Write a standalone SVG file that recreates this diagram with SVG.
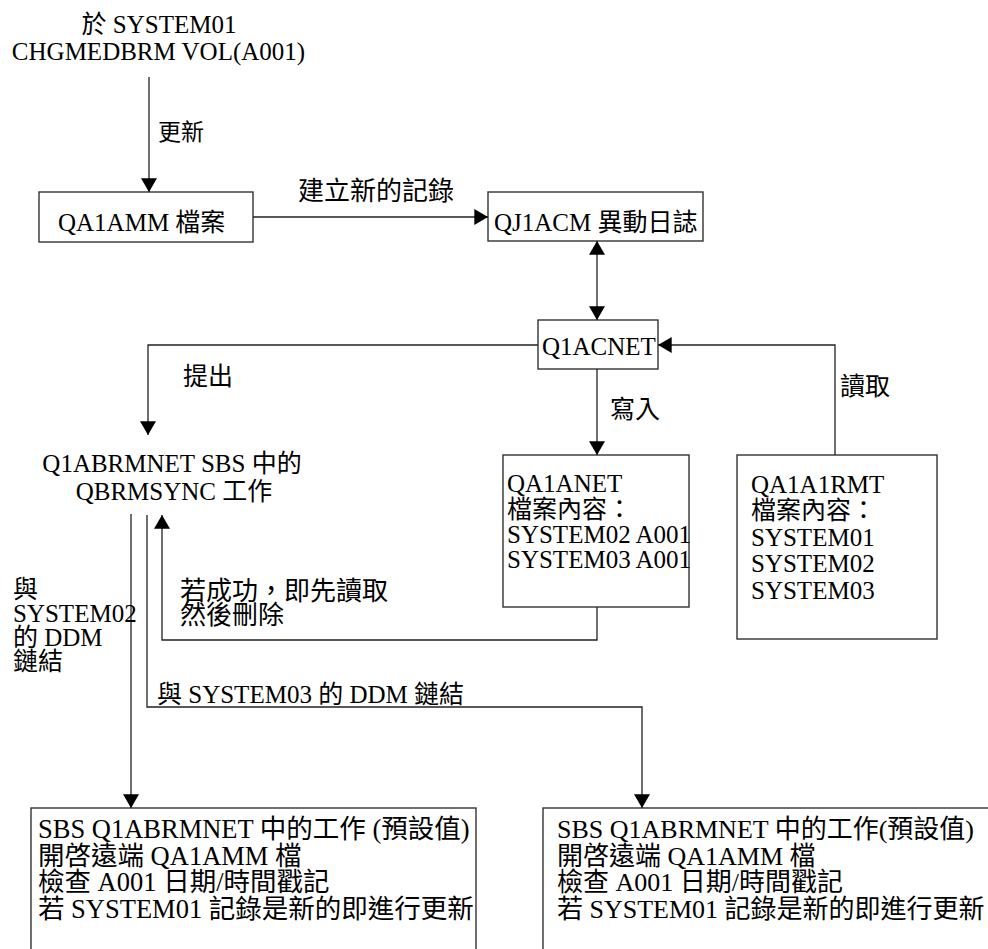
<svg xmlns="http://www.w3.org/2000/svg" width="988" height="949" viewBox="0 0 988 949">
<style>
  .bg{fill:#fff}
  .box{fill:#fff;stroke:#333;stroke-width:1.4}
  .ln{fill:none;stroke:#222;stroke-width:1.3}
  .t{font-family:'Liberation Serif','Times New Roman','Noto Sans CJK TC','Noto Sans CJK SC',serif;font-size:25px;fill:#000}
  .b{font-family:'Liberation Serif','Times New Roman','Noto Sans CJK TC','Noto Sans CJK SC',serif;font-size:26.5px;fill:#000}
  .b2{font-family:'Liberation Serif','Times New Roman','Noto Sans CJK TC','Noto Sans CJK SC',serif;font-size:26px;fill:#000}
</style>
<defs>
  <marker id="ah" markerUnits="userSpaceOnUse" markerWidth="16" markerHeight="16" viewBox="0 0 12 14" refX="12" refY="7" orient="auto-start-reverse">
    <path d="M0,0 L12,7 L0,14 Z" fill="#000"/>
  </marker>
</defs>
<rect class="bg" x="0" y="0" width="988" height="949"/>

<g id="start">
  <text class="t" x="159" y="33" text-anchor="middle">於 SYSTEM01</text>
  <text class="t" x="158.5" y="60" text-anchor="middle">CHGMEDBRM VOL(A001)</text>
</g>

<g id="qa1amm">
  <rect class="box" x="39" y="192" width="214" height="50"/>
  <text class="t" x="58" y="231">QA1AMM 檔案</text>
</g>

<g id="qj1acm">
  <rect class="box" x="488" y="192" width="215" height="49"/>
  <text class="t" x="494" y="231">QJ1ACM 異動日誌</text>
</g>

<g id="q1acnet">
  <rect class="box" x="538" y="320" width="120" height="49"/>
  <text class="t" x="542" y="355">Q1ACNET</text>
</g>

<g id="qbrmsync">
  <text class="t" x="172" y="472" text-anchor="middle">Q1ABRMNET SBS 中的</text>
  <text class="t" x="174" y="500" text-anchor="middle">QBRMSYNC 工作</text>
</g>

<g id="qa1anet">
  <rect class="box" x="503" y="455" width="186" height="152"/>
  <text class="t" x="507" y="492">QA1ANET</text>
  <text class="t" x="507" y="518">檔案內容：</text>
  <text class="t" x="507" y="543">SYSTEM02 A001</text>
  <text class="t" x="507" y="568">SYSTEM03 A001</text>
</g>

<g id="qa1a1rmt">
  <rect class="box" x="737" y="455" width="200" height="184"/>
  <text class="t" x="751" y="493">QA1A1RMT</text>
  <text class="t" x="751" y="519">檔案內容：</text>
  <text class="t" x="751" y="546">SYSTEM01</text>
  <text class="t" x="751" y="572">SYSTEM02</text>
  <text class="t" x="751" y="599">SYSTEM03</text>
</g>

<g id="job-system02">
  <rect class="box" x="31" y="808" width="445" height="170"/>
  <text class="b" x="38" y="838">SBS Q1ABRMNET 中的工作 (預設值)</text>
  <text class="b" x="38" y="865">開啓遠端 QA1AMM 檔</text>
  <text class="b" x="38" y="891">檢查 A001 日期/時間戳記</text>
  <text class="b" x="38" y="918">若 SYSTEM01 記錄是新的即進行更新</text>
</g>

<g id="job-system03">
  <rect class="box" x="543" y="808" width="470" height="170"/>
  <text class="b2" x="557" y="838">SBS Q1ABRMNET 中的工作(預設值)</text>
  <text class="b2" x="557" y="865">開啓遠端 QA1AMM 檔</text>
  <text class="b2" x="557" y="891">檢查 A001 日期/時間戳記</text>
  <text class="b2" x="557" y="918">若 SYSTEM01 記錄是新的即進行更新</text>
</g>

<g id="connectors">
  <path class="ln" d="M149,77 L149,192" marker-end="url(#ah)"/>
  <text class="t" x="158" y="140" style="font-size:23px">更新</text>

  <path class="ln" d="M253,217 L488,217" marker-end="url(#ah)"/>
  <text class="t" x="298" y="200" style="font-size:26px">建立新的記錄</text>

  <path class="ln" d="M597,241 L597,320" marker-start="url(#ah)" marker-end="url(#ah)"/>

  <path class="ln" d="M538,345 L148,345 L148,435" marker-end="url(#ah)"/>
  <text class="t" x="183" y="385">提出</text>

  <path class="ln" d="M597,369 L597,455" marker-end="url(#ah)"/>
  <text class="t" x="610" y="418">寫入</text>

  <path class="ln" d="M835,455 L835,345 L658,345" marker-end="url(#ah)"/>
  <text class="t" x="840" y="395">讀取</text>

  <path class="ln" d="M597,607 L597,640 L162,640 L162,515" marker-end="url(#ah)"/>
  <text class="t" x="180" y="600" style="font-size:26px">若成功，即先讀取</text>
  <text class="t" x="180" y="624" style="font-size:26px">然後刪除</text>

  <path class="ln" d="M131,514 L131,808" marker-end="url(#ah)"/>
  <text class="t" x="13" y="598">與</text>
  <text class="t" x="13" y="622">SYSTEM02</text>
  <text class="t" x="13" y="646">的 DDM</text>
  <text class="t" x="13" y="670">鏈結</text>

  <path class="ln" d="M147,515 L147,707 L642,707 L642,808" marker-end="url(#ah)"/>
  <text class="t" x="157" y="703">與 SYSTEM03 的 DDM 鏈結</text>
</g>
</svg>
